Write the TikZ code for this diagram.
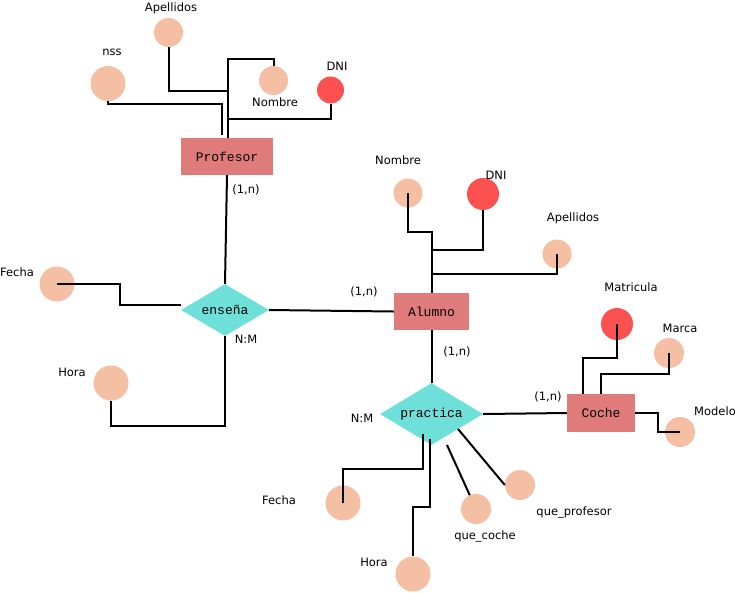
\documentclass[tikz,border=0pt]{standalone}
\usepackage{fontspec}
\setmainfont{DejaVu Sans}
\newfontfamily\monofont{Liberation Mono}
\usetikzlibrary{shapes.geometric}
\definecolor{attrc}{HTML}{F4BFA2}
\definecolor{keyc}{HTML}{FD5050}
\definecolor{entc}{HTML}{E07B7B}
\definecolor{relc}{HTML}{6FE0D9}
\begin{document}
\begin{tikzpicture}[x=1pt,y=-1pt,
  lbl/.style={font=\fontsize{11.5}{13}\selectfont, inner sep=0pt},
  ent/.style={fill=entc, minimum height=37pt, inner sep=0pt, font=\monofont\fontsize{13}{15}\selectfont},
  rel/.style={diamond, aspect=1.7, fill=relc, inner sep=0pt, font=\monofont\fontsize{13}{15}\selectfont},
  attr/.style={circle, fill=attrc, inner sep=0pt},
  keyattr/.style={circle, fill=keyc, inner sep=0pt},
  conn/.style={draw=black, line width=2pt}]
\useasboundingbox (0,0) rectangle (735,592);

% entities and relationships
\node[ent, minimum width=92pt] (prof) at (227,156.5) {Profesor};
\node[ent, minimum width=75pt] (alum) at (431.5,311.5) {Alumno};
\node[ent, minimum width=68pt, minimum height=38pt] (coche) at (601,413) {Coche};
\node[rel, minimum width=88pt, minimum height=52pt] (ens) at (225,310) {enseña};
\node[rel, minimum width=103pt, minimum height=62pt] (prac) at (431.5,414) {practica};

% Profesor attributes
\node[attr, minimum size=29pt] (pApe) at (168.5,32.5) {};
\node[attr, minimum size=35pt] (pNss) at (108,83.5) {};
\node[attr, minimum size=29pt] (pNom) at (273.5,80.5) {};
\node[keyattr, minimum size=27pt] (pDNI) at (330.5,90) {};

% ensenia attributes
\node[attr, minimum size=35pt] (eFec) at (57,284) {};
\node[attr, minimum size=35pt] (eHor) at (111,383) {};

% Alumno attributes
\node[attr, minimum size=29pt] (aNom) at (408,193) {};
\node[keyattr, minimum size=32pt] (aDNI) at (483,194) {};
\node[attr, minimum size=29pt] (aApe) at (557,254) {};

% Coche attributes
\node[keyattr, minimum size=32pt] (cMat) at (617,324) {};
\node[attr, minimum size=30pt] (cMar) at (669,353) {};
\node[attr, minimum size=30pt] (cMod) at (680,432) {};

% practica attributes
\node[attr, minimum size=35pt] (rFec) at (343,503) {};
\node[attr, minimum size=35pt] (rHor) at (413,574) {};
\node[attr, minimum size=30pt] (rQc) at (476,509) {};
\node[attr, minimum size=30pt] (rQp) at (520,485) {};

% connectors: Profesor
\coordinate (pTop) at (228,59);
\coordinate (pJ1) at (228,91);
\coordinate (pJ2) at (228,119);
\coordinate (pNx) at (222,104);
\draw[conn] (pNom.north) |- (pTop) -- (pTop |- prof.north);
\draw[conn] (pApe.south) |- (pJ1);
\draw[conn] (pDNI.south) |- (pJ2);
\draw[conn] (pNss.south) |- (pNx) -- ([yshift=3pt]pNx |- prof.north);

% connectors: enseña
\draw[conn] (prof.south) -- (ens.north);
\draw[conn] (ens.east) -- (alum.west);
\coordinate (eF1) at (120,284);
\coordinate (eF2) at (120,305);
\path (ens.west) ++(0,-5) coordinate (ensW);
\draw[conn] (eFec.center) -- (eF1) -- (eF2) -- (ensW);
\coordinate (eH1) at (225,426);
\draw[conn] (eHor.south) |- (eH1) -- (ens.south);

% connectors: Alumno
\coordinate (aJ0) at (431.5,232);
\coordinate (aJ1) at (431.5,250);
\coordinate (aJ2) at (431.5,274);
\draw[conn] (aNom.center) |- (aJ0) -- (alum.north);
\draw[conn] (aDNI.south) |- (aJ1);
\draw[conn] (aApe.center) |- (aJ2);
\draw[conn] (alum.south) -- (prac.north);

% connectors: Coche
\draw[conn] (prac.east) -- (coche.west);
\coordinate (cM) at (583,358);
\draw[conn] (cMat.center) |- (cM) -- (cM |- coche.north);
\coordinate (cMa) at (601,374);
\draw[conn] (cMar.center) |- (cMa) -- (cMa |- coche.north);
\coordinate (cMo) at (658,413);
\draw[conn] (coche.east) -- (cMo) |- (cMod.center);

% connectors: practica
\coordinate (rf1) at (423,434);
\coordinate (rf2) at (423,469);
\draw[conn] (rf1) -- (rf2) -| (rFec.center);
\coordinate (rh1) at (430,439);
\coordinate (rh2) at (430,507);
\draw[conn] (rh1) -- (rh2) -| (rHor.north);
\coordinate (rqc) at (447,445);
\draw[conn] (rqc) -- (rQc);
\coordinate (rqp) at (458,429);
\draw[conn] (rqp) -- (rQp.west);

% labels
\node[lbl] (lpApe) at (171,8) {Apellidos};
\node[lbl] (lpNss) at (112,52) {nss};
\node[lbl] (lpNom) at (275,102) {Nombre};
\node[lbl] (lpDNI) at (337,66) {DNI};
\node[lbl] (lc1) at (246,190) {(1,n)};
\node[lbl] (leFec) at (17,272) {Fecha};
\node[lbl] (leHor) at (72,372) {Hora};
\node[lbl] (lnm1) at (246,339) {N:M};
\node[lbl] (lc2) at (364,292) {(1,n)};
\node[lbl] (laNom) at (398,160) {Nombre};
\node[lbl] (laDNI) at (496,175) {DNI};
\node[lbl] (laApe) at (573,218) {Apellidos};
\node[lbl] (lc3) at (457,352) {(1,n)};
\node[lbl] (lnm2) at (362,418) {N:M};
\node[lbl] (lc4) at (548,397) {(1,n)};
\node[lbl] (lcMat) at (631,287) {Matricula};
\node[lbl] (lcMar) at (680,328) {Marca};
\node[lbl] (lcMod) at (715,411) {Modelo};
\node[lbl] (lrFec) at (279,500) {Fecha};
\node[lbl] (lrHor) at (374,562) {Hora};
\node[lbl] (lrQc) at (485,536) {que\_coche};
\node[lbl] (lrQp) at (574,512) {que\_profesor};
\end{tikzpicture}
\end{document}
